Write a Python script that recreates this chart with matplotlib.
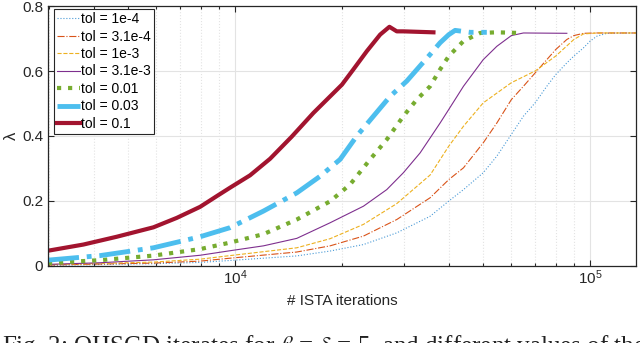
import matplotlib
matplotlib.use("Agg")
import matplotlib.pyplot as plt
from matplotlib.ticker import LogLocator, NullFormatter, LogFormatterSciNotation

plt.rcParams['font.family'] = ['Liberation Sans', 'DejaVu Sans']

labels = ["tol = 1e-4", "tol = 3.1e-4", "tol = 1e-3", "tol = 3.1e-3",
          "tol = 0.01", "tol = 0.03", "tol = 0.1"]

# tol = 1e-4
x1 = [2972, 5888, 7970, 9680, 14920, 18520, 22990, 28540, 35430, 40000, 43980, 50000,
      54610, 60000, 64890, 70000, 75510, 80000, 85990, 90000, 95750, 100000, 104440,
      111430, 134800]
y1 = [0.002, 0.007, 0.011, 0.017, 0.031, 0.046, 0.066, 0.102, 0.153, 0.200, 0.235, 0.287,
      0.338, 0.405, 0.461, 0.502, 0.553, 0.589, 0.625, 0.646, 0.671, 0.692, 0.707,
      0.716, 0.717]
# tol = 3.1e-4
x2 = [2972, 5888, 7970, 9680, 14920, 18520, 22990, 28540, 35430, 40000, 43980, 50000,
      54610, 60000, 64890, 70000, 75510, 80000, 85990, 90000, 95750, 104440, 134800]
y2 = [0.003, 0.009, 0.015, 0.024, 0.043, 0.062, 0.092, 0.143, 0.210, 0.266, 0.302, 0.379,
      0.440, 0.512, 0.553, 0.594, 0.635, 0.666, 0.697, 0.709, 0.716, 0.717, 0.717]
# tol = 1e-3
x3 = [2972, 5888, 7970, 9680, 14920, 18520, 22990, 28540, 35430, 40000, 43980, 50000,
      60000, 70000, 80000, 90000, 95750, 104440, 134800]
y3 = [0.004, 0.012, 0.021, 0.032, 0.056, 0.084, 0.128, 0.192, 0.280, 0.369, 0.430, 0.502,
      0.564, 0.600, 0.646, 0.697, 0.714, 0.717, 0.717]
# tol = 3.1e-3
x4 = [2972, 4168, 5888, 7970, 9680, 12020, 14920, 18520, 22990, 26740, 29790, 33200,
      35430, 37800, 40000, 43980, 50000, 54610, 60000, 64890, 85990]
y4 = [0.005, 0.010, 0.019, 0.033, 0.047, 0.062, 0.085, 0.133, 0.184, 0.235, 0.287, 0.348,
      0.394, 0.440, 0.482, 0.553, 0.635, 0.676, 0.709, 0.717, 0.716]
# tol = 0.01
x5 = [2972, 4168, 5888, 7970, 9680, 12020, 14920, 18520, 21090, 24010, 26740, 29790,
      32490, 35430, 37800, 40000, 43980, 48990, 54610, 63490]
y5 = [0.009, 0.018, 0.032, 0.052, 0.072, 0.098, 0.143, 0.199, 0.251, 0.328, 0.389, 0.461,
      0.512, 0.553, 0.605, 0.646, 0.692, 0.717, 0.719, 0.717]
# tol = 0.03
x6 = [2972, 4168, 5888, 7970, 9680, 12020, 14920, 17350, 19760, 22020, 24530, 27330,
      30450, 35430, 37800, 40000, 41660, 45920, 51170]
y6 = [0.018, 0.032, 0.056, 0.090, 0.118, 0.169, 0.225, 0.276, 0.328, 0.400, 0.461, 0.522,
      0.569, 0.651, 0.687, 0.712, 0.725, 0.719, 0.719]
# tol = 0.1
x7 = [2972, 3739, 4642, 5888, 6850, 7970, 8880, 9680, 11020, 12550, 14440, 16620,
      20000, 21540, 23500, 25620, 27210, 28540, 29790, 36200]
y7 = [0.047, 0.066, 0.090, 0.119, 0.148, 0.182, 0.215, 0.241, 0.279, 0.330, 0.398, 0.471,
      0.558, 0.605, 0.661, 0.712, 0.736, 0.722, 0.722, 0.719]

series = [(x1, y1), (x2, y2), (x3, y3), (x4, y4), (x5, y5), (x6, y6), (x7, y7)]
colors = ['#4a9ad6', '#D95319', '#EDB120', '#7E2F8E', '#77AC30', '#4DBEEE', '#A2142F']
styles = [':', '-.', '--', '-', ':', '-.', '-']
widths = [0.8, 0.8, 0.8, 0.8, 3.0, 3.5, 3.0]

fig = plt.figure(figsize=(6.4, 3.43), dpi=100)
ax = fig.add_axes([0.075, 0.2245, 0.919, 0.758])

for (xs, ys), c, ls, lw, lab in zip(series, colors, styles, widths, labels):
    ax.plot(xs, ys, color=c, linestyle=ls, linewidth=lw, label=lab)

ax.set_xscale('log')
ax.set_xlim(2972, 134800)
ax.set_ylim(0, 0.8)
ax.set_yticks([0, 0.2, 0.4, 0.6, 0.8])
ax.set_yticklabels(['0', '0.2', '0.4', '0.6', '0.8'])
ax.xaxis.set_major_locator(LogLocator(base=10))
ax.xaxis.set_minor_locator(LogLocator(base=10, subs=range(2, 10)))
ax.xaxis.set_major_formatter(LogFormatterSciNotation())
ax.xaxis.set_minor_formatter(NullFormatter())

ax.grid(True, which='major', color='#e3e3e3', linewidth=0.8, linestyle='-')
ax.grid(True, which='minor', axis='x', color='#e3e3e3', linewidth=0.8, linestyle=':')
ax.set_axisbelow(True)

for s in ax.spines.values():
    s.set_color('#262626')
    s.set_linewidth(0.9)
ax.tick_params(which='both', direction='in', top=True, right=True, colors='#262626',
               labelsize=11, width=0.8)
ax.tick_params(which='major', length=4)
ax.tick_params(which='minor', length=2.5)
ax.tick_params(axis='x', pad=2)

ax.set_xlabel('# ISTA iterations', fontsize=11, color='#262626', labelpad=5)
ax.set_ylabel('λ', fontsize=12, color='#262626', labelpad=2)

leg = ax.legend(loc='upper left', bbox_to_anchor=(0.01, 0.99), fontsize=10,
                frameon=True, fancybox=False, edgecolor='#262626', framealpha=1,
                handlelength=1.6, handletextpad=0.1, borderpad=0.25, labelspacing=0.25,
                borderaxespad=0.0)
leg.get_frame().set_linewidth(0.8)

fig.text(0.003, 1 - 333 / 343,
         'Fig. 2: OHSGD iterates for $\\beta$ = $\\delta$ = 5, and different values of the',
         fontsize=18, family=['Liberation Serif', 'DejaVu Serif'], math_fontfamily='stix',
         va='top', ha='left', color='#222222')

fig.savefig('out.png', dpi=100)
